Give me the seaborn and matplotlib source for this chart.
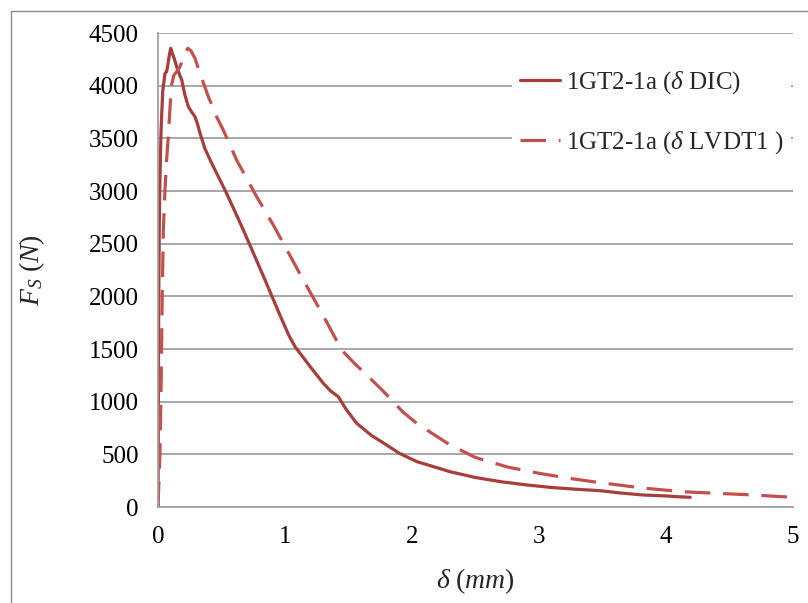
import numpy as np
import pandas as pd
import matplotlib
matplotlib.use("Agg")
import matplotlib.pyplot as plt
from matplotlib.lines import Line2D
import seaborn as sns

# ---- data ----
dic_x = [0, 0.003, 0.006, 0.01, 0.015, 0.024, 0.037, 0.055, 0.068, 0.078, 0.087, 0.10,
         0.115, 0.13, 0.147, 0.165, 0.187, 0.21, 0.239, 0.265, 0.291, 0.31, 0.331, 0.37,
         0.423, 0.54, 0.672, 0.843, 0.95, 1.03, 1.079, 1.2, 1.302, 1.36, 1.42, 1.48,
         1.564, 1.68, 1.80, 1.9, 2.04, 2.15, 2.30, 2.5, 2.7, 2.9, 3.1, 3.3, 3.48, 3.65,
         3.82, 4.0, 4.09, 4.19]
dic_f = [0, 1000, 2000, 2650, 3100, 3579, 3943, 4117, 4133, 4200, 4275, 4355,
         4300, 4250, 4180, 4120, 4054, 3920, 3800, 3750, 3706, 3640, 3548, 3400,
         3263, 2978, 2630, 2155, 1850, 1630, 1522, 1330, 1174, 1100, 1047, 930,
         795, 680, 589, 510, 430, 390, 335, 280, 240, 210, 185, 168, 155, 132,
         114, 105, 98, 92]

lvdt_x = [0, 0.015, 0.025, 0.033, 0.042, 0.055, 0.068, 0.081, 0.095, 0.107, 0.125, 0.147,
          0.173, 0.195, 0.213, 0.234, 0.26, 0.291, 0.331, 0.396, 0.43, 0.461, 0.514,
          0.619, 0.777, 0.908, 1.144, 1.30, 1.446, 1.55, 1.643, 1.74, 1.827, 1.93,
          2.037, 2.17, 2.30, 2.5, 2.75, 3.0, 3.25, 3.48, 3.82, 4.13, 4.40, 4.69, 5.0]
lvdt_f = [0, 500, 1200, 2000, 2630, 3010, 3300, 3515, 3800, 4006, 4100, 4133,
          4180, 4250, 4307, 4355, 4330, 4260, 4117, 3896, 3800, 3706, 3579,
          3294, 2946, 2677, 2155, 1820, 1490, 1360, 1253, 1140, 1032, 900,
          795, 690, 589, 470, 380, 320, 270, 231, 180, 145, 130, 114, 92]

labels = ["1GT2-1a ($\\delta$ DIC)", "1GT2-1a ($\\delta$ LVDT1 )"]
x_ticks = [0, 1, 2, 3, 4, 5]
y_ticks = [0, 500, 1000, 1500, 2000, 2500, 3000, 3500, 4000, 4500]

df = pd.concat([
    pd.DataFrame({"d": dic_x, "F": dic_f, "series": labels[0]}),
    pd.DataFrame({"d": lvdt_x, "F": lvdt_f, "series": labels[1]}),
], ignore_index=True)

# ---- style ----
sns.set_style("white")
plt.rcParams["font.family"] = ["Liberation Serif", "DejaVu Serif"]
plt.rcParams["mathtext.fontset"] = "custom"
plt.rcParams["mathtext.rm"] = "Liberation Serif"
plt.rcParams["mathtext.it"] = "Liberation Serif:italic"
plt.rcParams["mathtext.bf"] = "Liberation Serif:bold"

fig = plt.figure(figsize=(8.08, 6.03), dpi=100)
ax = fig.add_axes([158 / 808, 1 - 507 / 603, (793 - 158) / 808, (507 - 33) / 603])

palette = {labels[0]: "#A83E3B", labels[1]: "#C4504D"}
dashes = {labels[0]: "", labels[1]: (8, 4)}
sns.lineplot(data=df, x="d", y="F", hue="series", style="series", sort=False,
             estimator=None, palette=palette, dashes=dashes,
             linewidth=2.3, ax=ax, legend=True)

ax.set_xlim(0, 5)
ax.set_ylim(0, 4500)
ax.set_xticks(x_ticks)
ax.set_yticks(y_ticks)
ax.set_xticklabels([str(v) for v in x_ticks])
ax.set_yticklabels([str(v) for v in y_ticks])
ax.tick_params(axis="both", length=0, labelsize=18, colors="black")
ax.tick_params(axis="y", pad=14)
ax.tick_params(axis="x", pad=14)
ax.yaxis.grid(True, color="#A0A0A0", linewidth=1.3)
ax.xaxis.grid(False)
ax.set_axisbelow(True)
for side in ["top", "right"]:
    ax.spines[side].set_visible(False)
for side in ["left", "bottom"]:
    ax.spines[side].set_color("#A0A0A0")
    ax.spines[side].set_linewidth(1.3)

ax.set_xlabel("$\\delta\\ (mm)$", fontsize=20, labelpad=13)
ax.set_ylabel("$F_S\\ (N)$", fontsize=20, labelpad=30)

handles, labs = ax.get_legend_handles_labels()
leg = ax.legend(handles, labs, loc="upper left", bbox_to_anchor=(0.538, 0.965),
                frameon=True, facecolor="white", edgecolor="none", framealpha=1,
                fontsize=18, handlelength=1.6, handletextpad=0.25,
                labelspacing=1.3, borderpad=0.3, title=None)
leg.get_frame().set_linewidth(0)

# chart-area border (partially cropped)
fig.add_artist(Line2D([10.5 / 808, 10.5 / 808], [0, 1 - 10.5 / 603], color="#8C8C8C", linewidth=1.0))
fig.add_artist(Line2D([10.5 / 808, 1], [1 - 10.5 / 603, 1 - 10.5 / 603], color="#8C8C8C", linewidth=1.0))

fig.savefig("out.png", dpi=100, facecolor="white")
